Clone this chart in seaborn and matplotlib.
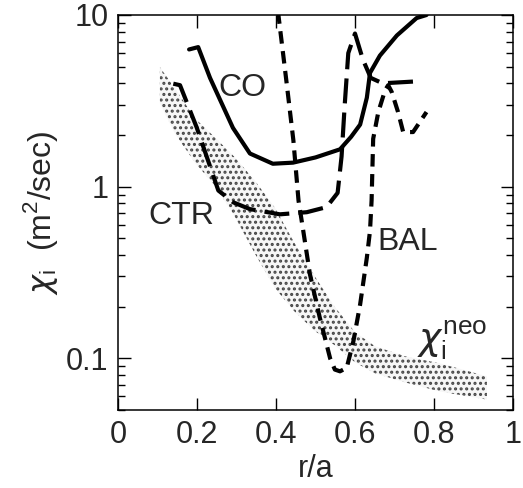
import numpy as np
import pandas as pd
import seaborn as sns
import matplotlib
matplotlib.use("Agg")
import matplotlib.pyplot as plt
from matplotlib.ticker import FixedLocator, LogLocator, NullFormatter

# ---- data ----
co_x = [0.180, 0.203, 0.233, 0.291, 0.334, 0.392, 0.443, 0.500, 0.562, 0.590, 0.613, 0.630, 0.638, 0.663, 0.706, 0.756, 0.781]
co_y = [6.3, 6.5, 4.3, 2.2, 1.56, 1.36, 1.38, 1.48, 1.65, 1.95, 2.3, 3.3, 4.6, 5.8, 7.6, 9.6, 10.0]

ctr_x = [0.140, 0.157, 0.199, 0.254, 0.292, 0.334, 0.410, 0.478, 0.528, 0.556, 0.566, 0.574, 0.583, 0.600, 0.620, 0.640, 0.670, 0.752]
ctr_y = [3.98, 3.9, 2.22, 0.95, 0.81, 0.74, 0.69, 0.71, 0.76, 0.92, 1.5, 3.0, 6.0, 7.8, 5.5, 4.3, 4.0, 4.1]

bal_x = [0.405, 0.427, 0.444, 0.457, 0.469, 0.486, 0.511, 0.537, 0.549, 0.562, 0.579, 0.596, 0.613, 0.630, 0.638, 0.642, 0.646, 0.659, 0.676, 0.684, 0.693, 0.709, 0.722, 0.747, 0.781]
bal_y = [10.5, 4.0, 1.86, 0.83, 0.553, 0.308, 0.172, 0.100, 0.086, 0.084, 0.088, 0.126, 0.206, 0.386, 0.553, 0.83, 1.9, 2.72, 3.64, 3.9, 3.56, 2.72, 2.08, 2.08, 2.72]

neo_x = [0.106, 0.144, 0.195, 0.246, 0.296, 0.347, 0.397, 0.448, 0.499, 0.549, 0.600, 0.651, 0.727, 0.815, 0.934]
neo_hi = [4.97, 3.74, 2.50, 1.93, 1.48, 1.08, 0.754, 0.464, 0.298, 0.199, 0.142, 0.1175, 0.1027, 0.0935, 0.0785]
neo_lo = [3.06, 2.04, 1.38, 1.01, 0.668, 0.406, 0.257, 0.186, 0.144, 0.119, 0.0948, 0.0817, 0.0724, 0.0641, 0.0575]

x_ticks = [0, 0.2, 0.4, 0.6, 0.8, 1]
x_ticklabels = ["0", "0.2", "0.4", "0.6", "0.8", "1"]
y_ticks = [0.1, 1, 10]
y_ticklabels = ["0.1", "1", "10"]

sns.set_style("ticks")
plt.rcParams["font.family"] = ["Liberation Sans", "DejaVu Sans"]
plt.rcParams["hatch.linewidth"] = 1.45

fig = plt.figure(figsize=(5.23, 4.88), dpi=100)
ax = fig.add_axes([118 / 523, 1 - 410 / 488, 395 / 523, 395 / 488])

# neoclassical band
ax.fill_between(neo_x, neo_lo, neo_hi, facecolor="#f6f6f6", edgecolor="#454545",
                hatch="...", linewidth=0, zorder=1)

lw = 3.0
sns.lineplot(x=co_x, y=co_y, sort=False, estimator=None, color="black", lw=lw, ax=ax, zorder=3)
sns.lineplot(x=ctr_x, y=ctr_y, sort=False, estimator=None, color="black", lw=lw,
             linestyle=(0, (6, 2.2)), ax=ax, zorder=3)
sns.lineplot(x=bal_x, y=bal_y, sort=False, estimator=None, color="black", lw=lw,
             linestyle=(0, (3, 1.8)), ax=ax, zorder=3)

ax.set_yscale("log")
ax.set_xlim(0, 1)
ax.set_ylim(0.05, 10)
ax.xaxis.set_major_locator(FixedLocator(x_ticks))
ax.set_xticklabels(x_ticklabels)
ax.yaxis.set_major_locator(FixedLocator(y_ticks))
ax.set_yticklabels(y_ticklabels)
ax.yaxis.set_minor_locator(LogLocator(base=10, subs=np.arange(2, 10)))
ax.yaxis.set_minor_formatter(NullFormatter())

ax.tick_params(which="both", direction="in", top=True, right=True, color="black", width=1.0)
ax.tick_params(which="major", length=9, labelsize=22, pad=7)
ax.tick_params(which="minor", length=5)
for s in ax.spines.values():
    s.set_linewidth(1.1)
    s.set_color("black")

ax.set_xlabel("r/a", fontsize=22, labelpad=3)
ax.set_ylabel(r"$\chi_\mathregular{i}$  (m$^\mathregular{2}$/sec)", fontsize=23, labelpad=4)

ax.text(0.253, 3.74, "CO", fontsize=23, va="center", ha="left", zorder=4)
ax.text(0.076, 0.676, "CTR", fontsize=23, va="center", ha="left", zorder=4)
ax.text(0.656, 0.473, "BAL", fontsize=23, va="center", ha="left", zorder=4)
ax.text(0.758, 0.112, r"$\chi_\mathregular{i}^\mathregular{neo}$", fontsize=27, va="baseline", ha="left", zorder=4)

fig.savefig("out.png", dpi=100)
